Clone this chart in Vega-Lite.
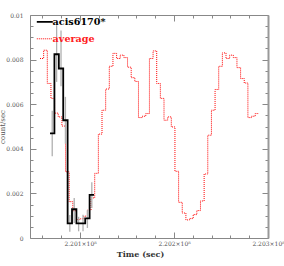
{
  "$schema": "https://vega.github.io/schema/vega-lite/v6.json",
  "width": 238,
  "height": 223,
  "autosize": "none",
  "padding": {"left": 30, "top": 15, "right": 16, "bottom": 28},
  "background": "white",
  "config": {"view": {"stroke": null}},
  "datasets": {
    "avg": [
      {"t": 220057450, "v": 0.00805, "series": "average"},
      {"t": 220061330, "v": 0.00842, "series": "average"},
      {"t": 220065210, "v": 0.00693, "series": "average"},
      {"t": 220069090, "v": 0.00626, "series": "average"},
      {"t": 220072970, "v": 0.0056, "series": "average"},
      {"t": 220076850, "v": 0.00543, "series": "average"},
      {"t": 220080730, "v": 0.00502, "series": "average"},
      {"t": 220084610, "v": 0.00297, "series": "average"},
      {"t": 220088490, "v": 0.00163, "series": "average"},
      {"t": 220092370, "v": 0.00122, "series": "average"},
      {"t": 220096250, "v": 0.00083, "series": "average"},
      {"t": 220100130, "v": 0.00086, "series": "average"},
      {"t": 220104010, "v": 0.00098, "series": "average"},
      {"t": 220107890, "v": 0.00125, "series": "average"},
      {"t": 220111770, "v": 0.0018, "series": "average"},
      {"t": 220115650, "v": 0.0029, "series": "average"},
      {"t": 220119530, "v": 0.00466, "series": "average"},
      {"t": 220123410, "v": 0.00573, "series": "average"},
      {"t": 220127290, "v": 0.00668, "series": "average"},
      {"t": 220131170, "v": 0.0077, "series": "average"},
      {"t": 220135050, "v": 0.00828, "series": "average"},
      {"t": 220138930, "v": 0.00805, "series": "average"},
      {"t": 220142810, "v": 0.0082, "series": "average"},
      {"t": 220146690, "v": 0.00809, "series": "average"},
      {"t": 220150570, "v": 0.00766, "series": "average"},
      {"t": 220154450, "v": 0.00719, "series": "average"},
      {"t": 220158330, "v": 0.00702, "series": "average"},
      {"t": 220162210, "v": 0.0054, "series": "average"},
      {"t": 220166090, "v": 0.00546, "series": "average"},
      {"t": 220169970, "v": 0.00558, "series": "average"},
      {"t": 220173850, "v": 0.00805, "series": "average"},
      {"t": 220177730, "v": 0.00839, "series": "average"},
      {"t": 220181610, "v": 0.00693, "series": "average"},
      {"t": 220185490, "v": 0.00626, "series": "average"},
      {"t": 220189370, "v": 0.00528, "series": "average"},
      {"t": 220193250, "v": 0.00543, "series": "average"},
      {"t": 220197130, "v": 0.00498, "series": "average"},
      {"t": 220201010, "v": 0.00299, "series": "average"},
      {"t": 220204890, "v": 0.0016, "series": "average"},
      {"t": 220208770, "v": 0.00112, "series": "average"},
      {"t": 220212650, "v": 0.00081, "series": "average"},
      {"t": 220216530, "v": 0.00087, "series": "average"},
      {"t": 220220410, "v": 0.00105, "series": "average"},
      {"t": 220224290, "v": 0.00123, "series": "average"},
      {"t": 220228170, "v": 0.00166, "series": "average"},
      {"t": 220232050, "v": 0.00287, "series": "average"},
      {"t": 220235930, "v": 0.00461, "series": "average"},
      {"t": 220239810, "v": 0.00573, "series": "average"},
      {"t": 220243690, "v": 0.00666, "series": "average"},
      {"t": 220247570, "v": 0.0077, "series": "average"},
      {"t": 220251450, "v": 0.0083, "series": "average"},
      {"t": 220255330, "v": 0.00805, "series": "average"},
      {"t": 220259210, "v": 0.0082, "series": "average"},
      {"t": 220263090, "v": 0.00809, "series": "average"},
      {"t": 220266970, "v": 0.00764, "series": "average"},
      {"t": 220270850, "v": 0.00715, "series": "average"},
      {"t": 220274730, "v": 0.00695, "series": "average"},
      {"t": 220278610, "v": 0.0054, "series": "average"},
      {"t": 220282490, "v": 0.00546, "series": "average"},
      {"t": 220286370, "v": 0.00558, "series": "average"},
      {"t": 220290250, "v": 0.00558, "series": "average"}
    ],
    "src": [
      {"t": 220068100, "v": 0.00469, "tm": 220070440, "lo": 0.00367, "hi": 0.00571, "series": "acis6170*"},
      {"t": 220072780, "v": 0.00824, "tm": 220075120, "lo": 0.007, "hi": 0.00954, "series": "acis6170*"},
      {"t": 220077460, "v": 0.0076, "tm": 220079800, "lo": 0.0068, "hi": 0.0093, "series": "acis6170*"},
      {"t": 220082140, "v": 0.00528, "tm": 220084480, "lo": 0.00423, "hi": 0.00633, "series": "acis6170*"},
      {"t": 220086820, "v": 0.00066, "tm": 220089160, "lo": 0.00028, "hi": 0.00103, "series": "acis6170*"},
      {"t": 220091500, "v": 0.00129, "tm": 220093840, "lo": 0.00067, "hi": 0.00179, "series": "acis6170*"},
      {"t": 220096180, "v": 0.00066, "tm": 220098520, "lo": 0.0003, "hi": 0.00095, "series": "acis6170*"},
      {"t": 220100860, "v": 0.00066, "tm": 220103200, "lo": 0.0003, "hi": 0.00104, "series": "acis6170*"},
      {"t": 220105540, "v": 0.00088, "tm": 220107880, "lo": 0.00045, "hi": 0.00125, "series": "acis6170*"},
      {"t": 220110220, "v": 0.00193, "tm": 220112560, "lo": 0.00135, "hi": 0.0025, "series": "acis6170*"},
      {"t": 220114900, "v": 0.00193, "series": "acis6170*"}
    ]
  },
  "resolve": {"axis": {"x": "independent", "y": "independent"}},
  "layer": [
    {
      "data": {"name": "src"},
      "mark": {"type": "point", "opacity": 0},
      "encoding": {
        "x": {"field": "t", "type": "quantitative", "scale": {"domain": [220046800, 220300000], "nice": false, "zero": false},
          "axis": {"orient": "top", "labels": false, "title": null, "grid": false, "domainColor": "#888", "tickColor": "#888",
            "values": [220060000,220080000,220100000,220120000,220140000,220160000,220180000,220200000,220220000,220240000,220260000,220280000,220300000],
            "tickSize": {"condition": {"test": "datum.value % 100000 === 0", "value": -6}, "value": -3}}},
        "y": {"field": "v", "type": "quantitative", "scale": {"domain": [0, 0.01], "nice": false, "zero": false},
          "axis": {"orient": "right", "labels": false, "title": null, "grid": false, "domainColor": "#999", "domainWidth": 2, "tickColor": "#888",
            "values": [0,0.0005,0.001,0.0015,0.002,0.0025,0.003,0.0035,0.004,0.0045,0.005,0.0055,0.006,0.0065,0.007,0.0075,0.008,0.0085,0.009,0.0095,0.01],
            "tickSize": {"condition": {"test": "abs(datum.value*500 - round(datum.value*500)) < 0.001", "value": -6}, "value": -3}}}
      }
    },
    {
      "data": {"name": "avg"},
      "mark": {"type": "line", "interpolate": "step-after", "strokeWidth": 1, "strokeDash": [1, 1]},
      "encoding": {
        "x": {"field": "t", "type": "quantitative", "scale": {"domain": [220046800, 220300000], "nice": false, "zero": false},
          "axis": {"orient": "bottom", "grid": false, "domainColor": "#888", "tickColor": "#888",
            "values": [220060000,220080000,220100000,220120000,220140000,220160000,220180000,220200000,220220000,220240000,220260000,220280000,220300000],
            "tickSize": {"condition": {"test": "datum.value % 100000 === 0", "value": -6}, "value": -3},
            "labelExpr": "datum.value % 100000 === 0 ? format(datum.value/1e8, '.3f') + '×10⁸' : ''",
            "labelFont": "DejaVu Serif", "labelFontSize": 6, "labelColor": "#555", "labelPadding": 8, "labelFlush": false,
            "title": "Time (sec)", "titleFont": "DejaVu Serif", "titleFontSize": 8, "titleFontWeight": "bold", "titleColor": "#333", "titlePadding": 4, "titleX": 110}},
        "y": {"field": "v", "type": "quantitative", "scale": {"domain": [0, 0.01], "nice": false, "zero": false},
          "axis": {"orient": "left", "grid": false, "domainColor": "#888", "tickColor": "#888",
            "values": [0,0.0005,0.001,0.0015,0.002,0.0025,0.003,0.0035,0.004,0.0045,0.005,0.0055,0.006,0.0065,0.007,0.0075,0.008,0.0085,0.009,0.0095,0.01],
            "tickSize": {"condition": {"test": "abs(datum.value*500 - round(datum.value*500)) < 0.001", "value": -6}, "value": -3},
            "labelExpr": "abs(datum.value*500 - round(datum.value*500)) < 0.001 ? format(datum.value, '~g') : ''",
            "labelFont": "DejaVu Serif", "labelFontSize": 6, "labelColor": "#555", "labelPadding": 13, "labelFlush": false,
            "title": "count/sec", "titleFont": "DejaVu Serif", "titleFontSize": 7, "titleFontWeight": "normal", "titleColor": "#555", "titlePadding": 0}},
        "color": {"field": "series", "type": "nominal", "scale": {"domain": ["acis6170*", "average"], "range": ["#000000", "#ff0000"]},
          "legend": {"orient": "none", "legendX": 10, "legendY": 2, "title": null, "symbolType": "stroke", "symbolSize": 256, "padding": 0,
            "labelFont": "DejaVu Serif", "labelFontSize": 9.6, "labelFontWeight": "bold", "labelOffset": 3, "rowPadding": 6,
            "encoding": {
              "labels": {"fill": {"value": {"expr": "datum.value === 'average' ? '#ff2020' : '#000000'"}}},
              "symbols": {
                "stroke": {"value": {"expr": "datum.value === 'average' ? '#ff0000' : '#000000'"}},
                "strokeDash": {"value": {"expr": "datum.value === 'average' ? [1, 1] : [1, 0]"}},
                "strokeWidth": {"value": {"expr": "datum.value === 'average' ? 1 : 1.8"}}
              }
            }}}
      }
    },
    {
      "data": {"name": "src"},
      "transform": [{"filter": "isValid(datum.lo)"}],
      "mark": {"type": "rule", "color": "#b0b0b0", "strokeWidth": 1.3},
      "encoding": {
        "x": {"field": "tm", "type": "quantitative", "scale": {"domain": [220046800, 220300000], "nice": false, "zero": false}, "axis": null},
        "y": {"field": "lo", "type": "quantitative", "scale": {"domain": [0, 0.01], "nice": false, "zero": false}, "axis": null},
        "y2": {"field": "hi"}
      }
    },
    {
      "data": {"name": "src"},
      "mark": {"type": "line", "interpolate": "step-after", "color": "#000000", "strokeWidth": 1.8},
      "encoding": {
        "x": {"field": "t", "type": "quantitative", "scale": {"domain": [220046800, 220300000], "nice": false, "zero": false}, "axis": null},
        "y": {"field": "v", "type": "quantitative", "scale": {"domain": [0, 0.01], "nice": false, "zero": false}, "axis": null},
        "detail": {"field": "series", "type": "nominal"}
      }
    }
  ]
}
